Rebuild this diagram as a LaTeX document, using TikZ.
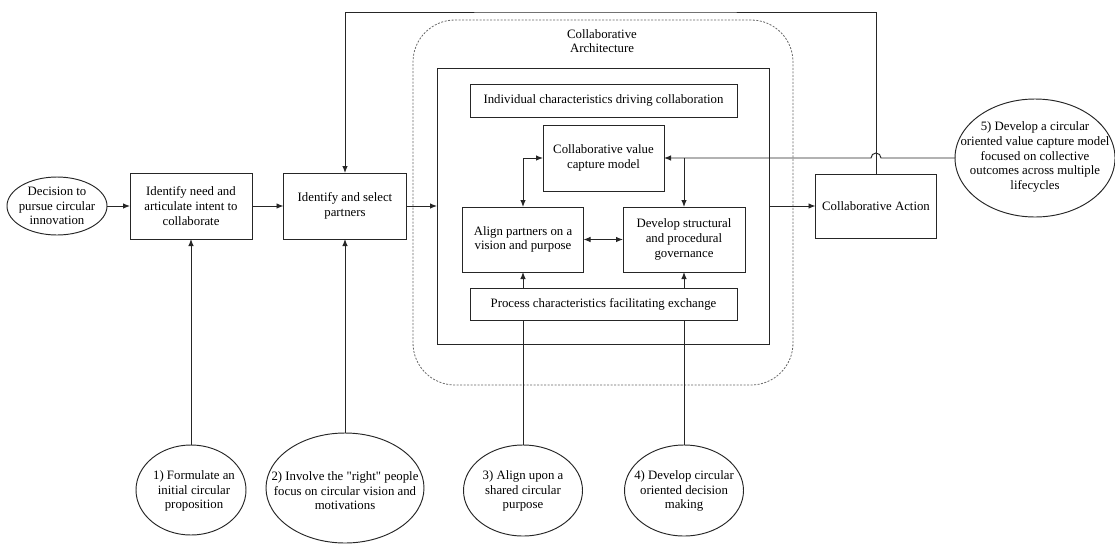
\documentclass[tikz,border=0pt]{standalone}
\usepackage{fontspec}
\setmainfont{Liberation Serif}[Ligatures=TeXOff]
\usetikzlibrary{shapes.geometric,arrows.meta}
\begin{document}
\begin{tikzpicture}[x=1pt,y=-1pt,
  every node/.style={font=\fontsize{12.8}{14.6}\selectfont, text=black},
  ln/.style={draw=black!85, line width=0.95pt},
  box/.style={ln, rectangle, align=center, inner sep=0pt, outer sep=0pt},
  ell/.style={ln, ellipse, inner sep=0pt, outer sep=0pt},
  lbl/.style={align=center, inner sep=0pt},
  arr/.style={ln, -{Latex[length=7pt,width=5.5pt]}},
  darr/.style={ln, {Latex[length=7pt,width=5.5pt]}-{Latex[length=7pt,width=5.5pt]}},
  plain/.style={ln}
]
\useasboundingbox (0,0) rectangle (1115,544);

% dashed architecture frame
\node[draw=black!60, line width=0.8pt, dash pattern=on 2pt off 1.5pt, rounded corners=42pt,
  minimum width=380pt, minimum height=365pt, inner sep=0pt] (arch) at (603,202.5) {};
\node[lbl] (archt) at (602,41) {Collaborative\\Architecture};
\node[box, minimum width=332pt, minimum height=276pt] (inner) at (603,206) {};

% left chain
\node[ell, minimum width=100pt, minimum height=58pt] (e0) at (57,206) {};
\node[lbl] (e0t) at (57,206) {Decision to\\pursue circular\\innovation};
\node[box, minimum width=122pt, minimum height=66pt] (need) at (191,206) {Identify need and\\articulate intent to\\collaborate};
\node[box, minimum width=123pt, minimum height=66pt] (sp) at (345,206) {Identify and select\\partners};

% inner boxes
\node[box, minimum width=267pt, minimum height=33pt] (ind) at (603.5,100.5) {Individual characteristics driving collaboration};
\node[box, minimum width=121pt, minimum height=66pt] (vc) at (603.5,158) {Collaborative value\\capture model};
\node[box, minimum width=121pt, minimum height=65pt] (al) at (523,239.5) {Align partners on a\\vision and purpose};
\node[box, minimum width=122pt, minimum height=65pt] (dev) at (684,239.5) {Develop structural\\and procedural\\governance};
\node[box, minimum width=267pt, minimum height=32pt] (pr) at (603.5,304) {Process characteristics facilitating exchange};

% right
\node[box, minimum width=121pt, minimum height=64pt] (ca) at (876,206) {Collaborative Action};
\node[ell, minimum width=160pt, minimum height=118pt] (e5) at (1035,158) {};
\node[lbl] (e5t) at (1035,157) {5) Develop a circular\\oriented value capture model\\focused on collective\\outcomes across multiple\\lifecycles};

% bottom ellipses
\node[ell, minimum width=110pt, minimum height=90pt] (e1) at (191,490) {};
\node[lbl] (e1t) at (194,491) {1) Formulate an\\initial circular\\proposition};
\node[ell, minimum width=158pt, minimum height=110pt] (e2) at (345,488) {};
\node[lbl] (e2t) at (345,491) {2) Involve the "right" people\\focus on circular vision and\\motivations};
\node[ell, minimum width=119pt, minimum height=91pt] (e3) at (523,490.5) {};
\node[lbl] (e3t) at (523,491) {3) Align upon a\\shared circular\\purpose};
\node[ell, minimum width=119pt, minimum height=91pt] (e4) at (684,490.5) {};
\node[lbl] (e4t) at (684,491) {4) Develop circular\\oriented decision\\making};

\coordinate (topl) at (600,12);

% connectors
\draw[arr] (e0.east) -- (need.west);
\draw[arr] (need.east) -- (sp.west);
\draw[arr] (sp.east) -- (inner.west);
\draw[arr] (inner.east) -- (ca.west);
\draw[arr] (ca.north) |- (topl) -| (sp.north);
\draw[arr] (e1.north) -- (need.south);
\draw[arr] (e2.north) -- (sp.south);
\draw[plain] (e3.north) -- (e3.north |- pr.south);
\draw[plain] (e4.north) -- (e4.north |- pr.south);
\draw[arr] (pr.north -| al.south) -- (al.south);
\draw[arr] (pr.north -| dev.south) -- (dev.south);
\draw[darr] (al.east) -- (dev.west);
\draw[darr] (vc.west) -| (al.north);
\coordinate (hopR) at (881,158);
\draw[arr] (e5.west) -- (hopR) arc[start angle=0, end angle=180, radius=5pt] -- (vc.east);
\draw[arr] (vc.east -| dev.north) -- (dev.north);
\end{tikzpicture}
\end{document}
